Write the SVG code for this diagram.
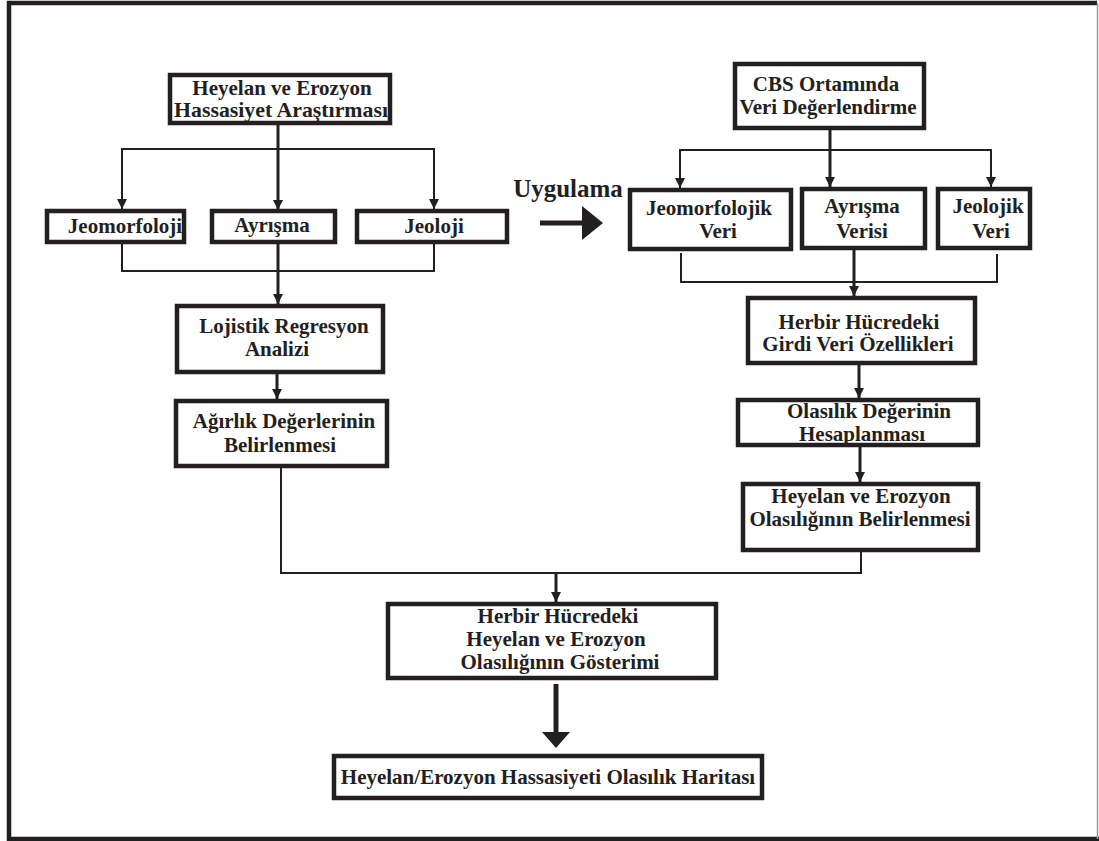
<svg xmlns="http://www.w3.org/2000/svg" width="1099" height="841" viewBox="0 0 1099 841">
  <style>
    .box { fill: #ffffff; stroke: #231f20; stroke-width: 4.5; }
    text { font-family: 'Liberation Serif', 'DejaVu Serif', serif; font-weight: bold; font-size: 21px; fill: #231f20; text-anchor: middle; }
    .c { fill: none; stroke: #231f20; stroke-width: 2; }
    .ck { fill: none; stroke: #231f20; stroke-width: 3; }
    .solid { fill: #231f20; stroke: none; }
  </style>
  <defs>
    <marker id="ah" viewBox="0 0 10 10" refX="10" refY="5" markerWidth="10" markerHeight="10" markerUnits="userSpaceOnUse" orient="auto">
      <path d="M0,0 L10,5 L0,10 z" fill="#231f20"/>
    </marker>
  </defs>

  <rect width="1099" height="841" fill="#ffffff"/>

  <!-- page frame -->
  <g id="frame">
    <line x1="7" y1="3" x2="1097" y2="3" stroke="#231f20" stroke-width="4.5"/>
    <line x1="9" y1="1" x2="9" y2="841" stroke="#231f20" stroke-width="4.5"/>
    <line x1="7" y1="839" x2="1099" y2="839" stroke="#231f20" stroke-width="4.5"/>
    <line x1="1097.5" y1="3" x2="1097.5" y2="839" stroke="#9a9a9a" stroke-width="1.5"/>
  </g>

  <!-- connectors -->
  <g id="connectors">
    <!-- left branch -->
    <line class="ck" x1="278" y1="123" x2="278" y2="210" marker-end="url(#ah)"/>
    <polyline class="c" points="122,209 122,149 434,149 434,209"/>
    <line class="c" x1="122" y1="199" x2="122" y2="209" marker-end="url(#ah)"/>
    <line class="c" x1="434" y1="199" x2="434" y2="209" marker-end="url(#ah)"/>
    <polyline class="c" points="122,243 122,271 434,271 434,243"/>
    <line class="ck" x1="278" y1="243" x2="278" y2="304" marker-end="url(#ah)"/>
    <line class="ck" x1="277" y1="373" x2="277" y2="399" marker-end="url(#ah)"/>

    <!-- right branch -->
    <line class="ck" x1="830" y1="128" x2="830" y2="187" marker-end="url(#ah)"/>
    <polyline class="c" points="680,188 680,150 991,150 991,187"/>
    <line class="c" x1="680" y1="178" x2="680" y2="188" marker-end="url(#ah)"/>
    <line class="c" x1="991" y1="177" x2="991" y2="187" marker-end="url(#ah)"/>
    <polyline class="c" points="681,253 681,282 997,282 997,254"/>
    <line class="ck" x1="854" y1="249" x2="854" y2="296" marker-end="url(#ah)"/>
    <line class="ck" x1="859" y1="364" x2="859" y2="398" marker-end="url(#ah)"/>
    <line class="ck" x1="860" y1="446" x2="860" y2="482" marker-end="url(#ah)"/>

    <!-- merge into the combined result -->
    <polyline class="c" points="281,467 281,573 861,573 861,551"/>
    <line class="ck" x1="556" y1="573" x2="556" y2="602" marker-end="url(#ah)"/>

    <!-- heavy arrow to the final map -->
    <line x1="556" y1="684" x2="556" y2="734" stroke="#231f20" stroke-width="5"/>
    <polygon class="solid" points="542,732 570,732 556,748"/>

    <!-- application arrow -->
    <line x1="540" y1="223" x2="584" y2="223" stroke="#231f20" stroke-width="5"/>
    <polygon class="solid" points="582,206 582,240 603,223"/>
  </g>

  <text x="568" y="197" style="font-size:25px">Uygulama</text>

  <!-- left column -->
  <g id="n-arastirma">
    <rect class="box" x="170" y="75" width="220" height="48"/>
    <text x="282" y="95">Heyelan ve Erozyon</text>
    <text x="281" y="117" textLength="214" lengthAdjust="spacingAndGlyphs">Hassasiyet Araştırması</text>
  </g>
  <g id="n-jeomorfoloji">
    <rect class="box" x="47" y="211" width="137" height="31"/>
    <text x="125" y="233">Jeomorfoloji</text>
  </g>
  <g id="n-ayrisma">
    <rect class="box" x="212" y="211" width="123" height="31"/>
    <text x="272" y="232">Ayrışma</text>
  </g>
  <g id="n-jeoloji">
    <rect class="box" x="357" y="211" width="150" height="31"/>
    <text x="434" y="233">Jeoloji</text>
  </g>
  <g id="n-lojistik">
    <rect class="box" x="177" y="306" width="206" height="66"/>
    <text x="284" y="333">Lojistik Regresyon</text>
    <text x="277" y="356">Analizi</text>
  </g>
  <g id="n-agirlik">
    <rect class="box" x="176" y="401" width="211" height="65"/>
    <text x="284" y="428">Ağırlık Değerlerinin</text>
    <text x="280" y="452">Belirlenmesi</text>
  </g>

  <!-- right column -->
  <g id="n-cbs">
    <rect class="box" x="735" y="64" width="189" height="64"/>
    <text x="826" y="91">CBS Ortamında</text>
    <text x="828" y="114">Veri Değerlendirme</text>
  </g>
  <g id="n-jeomorfolojik-veri">
    <rect class="box" x="630" y="190" width="161" height="59"/>
    <text x="709" y="215">Jeomorfolojik</text>
    <text x="718" y="238">Veri</text>
  </g>
  <g id="n-ayrisma-verisi">
    <rect class="box" x="802" y="189" width="123" height="59"/>
    <text x="862" y="213">Ayrışma</text>
    <text x="862" y="238">Verisi</text>
  </g>
  <g id="n-jeolojik-veri">
    <rect class="box" x="938" y="189" width="92" height="59"/>
    <text x="988" y="213">Jeolojik</text>
    <text x="991" y="238">Veri</text>
  </g>
  <g id="n-girdi">
    <rect class="box" x="748" y="298" width="227" height="65"/>
    <text x="859" y="329">Herbir Hücredeki</text>
    <text x="858" y="351">Girdi Veri Özellikleri</text>
  </g>
  <g id="n-olasilik-degeri">
    <rect class="box" x="738" y="400" width="240" height="45"/>
    <text x="869" y="418">Olasılık Değerinin</text>
    <text x="862" y="441">Hesaplanması</text>
  </g>
  <g id="n-olasilik-belirleme">
    <rect class="box" x="743" y="484" width="235" height="66"/>
    <text x="861" y="503">Heyelan ve Erozyon</text>
    <text x="860" y="526">Olasılığının Belirlenmesi</text>
  </g>

  <!-- combined output -->
  <g id="n-gosterim">
    <rect class="box" x="388" y="604" width="328" height="74"/>
    <text x="558" y="623">Herbir Hücredeki</text>
    <text x="556" y="646">Heyelan ve Erozyon</text>
    <text x="560" y="669">Olasılığının Gösterimi</text>
  </g>
  <g id="n-harita">
    <rect class="box" x="334" y="756" width="428" height="42"/>
    <text x="548" y="784">Heyelan/Erozyon Hassasiyeti Olasılık Haritası</text>
  </g>
</svg>
